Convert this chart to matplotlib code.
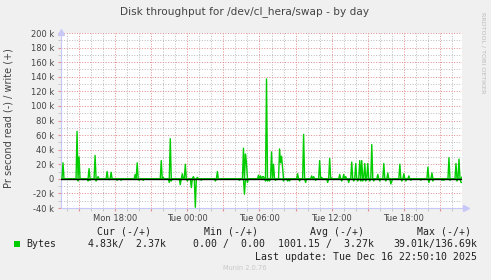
import numpy as np
import matplotlib
matplotlib.use("Agg")
import matplotlib.pyplot as plt
from matplotlib.ticker import MultipleLocator
from matplotlib.patches import Rectangle

# ---------------- data (5-minute slots from Mon 13:30, values in kB/s) -------------
start_hour = 13.5          # Mon 13:30 expressed in hours since Mon 00:00
n_slots = 400
write_slot = [2, 16, 18, 28, 34, 37, 46, 50, 74, 76, 100, 102, 109, 121, 124, 132, 136,
              156, 182, 184, 185, 197, 199, 201, 202, 205, 210, 212, 218, 219, 220, 221,
              236, 242, 250, 252, 258, 260, 268, 270, 278, 282, 284, 290, 294, 298, 300,
              303, 306, 310, 316, 322, 326, 338, 342, 347, 366, 370, 387, 394, 397, 400]
write_k = [22, 65, 30, 14, 32, 3, 10, 9, 6, 22, 25, 2, 55, 7, 20, 3, 2,
           10, 42, 34, 22, 5, 4, 3, 3, 137, 37, 20, 41, 22, 31, 15,
           7, 61, 4, 3, 25, 2, 28, 1, 6, 6, 3, 23, 21, 25, 25,
           21, 21, 47, 6, 21, 8, 20, 7, 4, 16, 8, 29, 21, 27, 2.37]
read_slot = [17, 22, 27, 29, 35, 48, 56, 60, 78, 82, 108, 110, 119, 126, 130, 134, 138,
             140, 154, 178, 183, 186, 204, 206, 208, 214, 222, 226, 228, 238, 244, 254,
             266, 272, 280, 287, 292, 296, 299, 301, 304, 308, 312, 318, 324, 329, 330,
             340, 344, 349, 359, 367, 371, 380, 382, 388, 395, 399, 400]
read_k = [3, 1, 3, 2, 3, 1, 2, 2, 2, 2, 5, 3, 8, 3, 12, 39, 1,
          2, 3, 2, 21, 5, 3, 3, 3, 2, 3, 3, 3, 3, 5, 2,
          5, 1, 3, 5, 3, 3, 3, 3, 3, 3, 3, 3, 3, 7, 3,
          3, 3, 2, 2, 5, 3, 2, 2, 2, 3, 5, 4.83]

x_tick_hours = [18, 24, 30, 36, 42]
x_tick_labels = ["Mon 18:00", "Tue 00:00", "Tue 06:00", "Tue 12:00", "Tue 18:00"]

title = "Disk throughput for /dev/cl_hera/swap - by day"
ylabel = "Pr second read (-) / write (+)"
legend_cols = ["Cur (-/+)", "Min (-/+)", "Avg (-/+)", "Max (-/+)"]
legend_vals = ["4.83k/  2.37k", "0.00 /  0.00", "1001.15 /  3.27k", "39.01k/136.69k"]
series_name = "Bytes"
last_update = "Last update: Tue Dec 16 22:50:10 2025"
munin_ver = "Munin 2.0.76"
side_text = "RRDTOOL / TOBI OETIKER"

# ---------------- build series ----------------
x = start_hour + np.arange(n_slots + 1) / 12.0
write = np.zeros(n_slots + 1)
write[write_slot] = write_k
read = np.zeros(n_slots + 1)
read[read_slot] = read_k

# ---------------- figure ----------------
W, H = 491, 280
BG = "#F0F0F0"
fig = plt.figure(figsize=(W / 100, H / 100), dpi=100, facecolor=BG)

def fx(px):
    return px / W

def fy(py):
    return 1 - py / H

L, R, T, B = 61, 462, 33, 208
ax = fig.add_axes([fx(L), fy(B), fx(R) - fx(L), fy(T) - fy(B)])
ax.set_facecolor("white")

x_end = start_hour + n_slots / 12.0
ax.set_xlim(start_hour, x_end)
ax.set_ylim(-40, 200)

GRID_MIN = "#BEBEBE"
GRID_MAJ = "#E49090"
ax.xaxis.set_minor_locator(MultipleLocator(1))
ax.xaxis.set_major_locator(MultipleLocator(3))
ax.yaxis.set_minor_locator(MultipleLocator(10))
ax.yaxis.set_major_locator(MultipleLocator(20))
ax.grid(which="minor", color=GRID_MIN, linestyle=(0, (1, 1.6)), linewidth=0.72)
ax.grid(which="major", color=GRID_MAJ, linestyle=(0, (1, 1.6)), linewidth=0.72)
ax.set_axisbelow(True)

def xfmt(v, pos):
    for h, t in zip(x_tick_hours, x_tick_labels):
        if abs(v - h) < 1e-6:
            return t
    return ""
ax.xaxis.set_major_formatter(plt.FuncFormatter(xfmt))
ax.yaxis.set_major_formatter(plt.FuncFormatter(lambda v, p: "0" if abs(v) < 1e-9 else f"{int(round(v))} k"))
ax.tick_params(axis="x", which="both", length=2, color=GRID_MAJ, pad=2, labelsize=6, labelcolor="#444444")
ax.tick_params(axis="x", which="minor", color=GRID_MIN)
ax.tick_params(axis="y", which="both", length=2, color=GRID_MAJ, pad=3, labelsize=6, labelcolor="#444444")
ax.tick_params(axis="y", which="minor", color=GRID_MIN)

for s in ["top", "right"]:
    ax.spines[s].set_visible(False)
AXC = "#C8C8F8"
ax.spines["left"].set_color(AXC)
ax.spines["bottom"].set_color(AXC)
ax.spines["left"].set_linewidth(0.8)
ax.spines["bottom"].set_linewidth(0.8)

# data lines
ax.plot(x, write, color="#00CC00", lw=1.0, zorder=3)
ax.plot(x, -read, color="#00CC00", lw=1.0, zorder=3)
ax.axhline(0, color="black", lw=1.0, zorder=4)

# axis arrows
ax.plot([x_end, x_end + 0.3], [-40, -40], color=AXC, lw=0.8, clip_on=False)
ax.plot([x_end + 0.35], [-40], marker=">", color=AXC, ms=4, clip_on=False, mec=AXC)
ax.plot([start_hour], [201.5], marker="^", color=AXC, ms=4, clip_on=False, mec=AXC)

# title and labels
fig.text(fx(245), fy(12), title, ha="center", va="center", fontsize=7.6, color="#444444")
fig.text(fx(9), fy(118), ylabel, ha="center", va="center", rotation=90, fontsize=7, color="#444444")
fig.text(fx(483), fy(53), side_text, ha="center", va="center", rotation=270, fontsize=4.6,
         color="#BBBBBB")

mono = dict(family="DejaVu Sans Mono", fontsize=7.1, color="#222222", va="center")
col_x = [97, 204, 310, 416.7]
for cx, t in zip(col_x, legend_cols):
    fig.text(fx(cx), fy(231.7), t, ha="left", **mono)
val_x = [88.3, 192.7, 277.7, 393.3]
for vx, t in zip(val_x, legend_vals):
    fig.text(fx(vx), fy(244.3), t, ha="left", **mono)
fig.text(fx(26.7), fy(244.3), series_name, ha="left", **mono)
fig.patches.append(Rectangle((fx(14), fy(247)), fx(6), 6 / H, transform=fig.transFigure,
                             facecolor="#00CC00", edgecolor="none"))
fig.text(fx(476.7), fy(256.7), last_update, ha="right", **mono)
fig.text(fx(245), fy(267.7), munin_ver, ha="center", va="center", fontsize=4.8, color="#C8C8C8")

fig.savefig("out.png", dpi=100, facecolor=BG)
